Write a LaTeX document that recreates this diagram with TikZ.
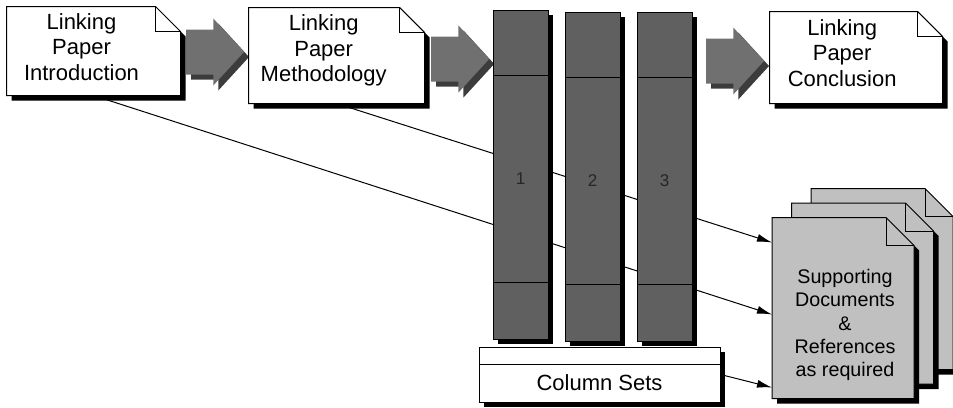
\documentclass[tikz,border=0pt]{standalone}
\usepackage{fontspec}
\setmainfont{Liberation Sans}
\usepackage{tikz}
\usetikzlibrary{calc}
\usetikzlibrary{positioning}
\usetikzlibrary{shapes.arrows}
\usetikzlibrary{shadows}
\usetikzlibrary{backgrounds}
\usetikzlibrary{arrows.meta}
\definecolor{barGray}{HTML}{606060}
\definecolor{blockGray}{HTML}{707070}
\definecolor{blockShade}{HTML}{3C3C3C}
\definecolor{paperGray}{HTML}{C0C0C0}
\tikzset{
    doctext/.style={font=\fontsize{22}{25.5}\selectfont},
    stacktext/.style={font=\fontsize{19.7}{23.3}\selectfont},
    blockarrow/.style={single arrow, fill=blockGray, inner xsep=0pt, inner ysep=22pt, single arrow head extend=11pt, single arrow tip angle=95, minimum height=58, drop shadow={fill=blockShade, opacity=1, shadow xshift=5pt, shadow yshift=-5pt}},
    bar/.style={rectangle, draw, fill=barGray, minimum width=\colWidth, minimum height=\colHeight, drop shadow={fill=black, opacity=1, shadow xshift=5pt, shadow yshift=-5pt}},
    barpart/.style={rectangle, draw, minimum width=\colWidth},
    barlabel/.style={font=\fontsize{17}{17}\selectfont, text=black!85},
    link/.style={draw, line width=1pt, -{Latex[length=15pt, width=8pt]}},
}
% name, text, text style, fill, width, height, text shift, placement
\newcommand{\docshape}[8]{
    \begin{scope}
        \node (#1) [rectangle, minimum width=#5, minimum height=#6, #8] {};
        \fill [black] ($(#1.north west)+(\shadowOff,\shadowOff)$) -- ($(#1.north east)+(\shadowOff-\foldSize,\shadowOff)$) -- ($(#1.north east)+(\shadowOff,\shadowOff+\foldSize)$) -- ($(#1.south east)+(\shadowOff,\shadowOff)$) -- ($(#1.south west)+(\shadowOff,\shadowOff)$) -- cycle;
        \draw [fill=#4] (#1.north west) -- ($(#1.north east)+(-\foldSize,0)$) -- ($(#1.north east)+(0,\foldSize)$) -- (#1.south east) -- (#1.south west) -- cycle;
        \draw ($(#1.north east)+(-\foldSize,0)$) -- ++(0,\foldSize) -- ++(\foldSize,0);
        \node (#1_text) [#3] at ($(#1.center)+(#7)$) {#2};
    \end{scope}
}
% name, label, placement
\newcommand{\barcol}[3]{
    \begin{scope}
        \node (#1) [bar, #3] {};
        \node (#1_upper) [barpart, minimum height=65, below=0pt of #1.north] {};
        \node (#1_lower) [barpart, minimum height=57, above=0pt of #1.south] {};
        \node (#1_label) [barlabel] at ($(#1_upper.south)!0.5!(#1_lower.north)$) {#2};
    \end{scope}
}
\begin{document}
\begin{tikzpicture}[x=1pt, y=-1pt, inner sep=0pt, align=center, line width=1pt]
    \pgfmathsetmacro{\shadowOff}{5}
    \pgfmathsetmacro{\foldSize}{25}
    \pgfmathsetmacro{\colWidth}{55}
    \pgfmathsetmacro{\colHeight}{329}

    \useasboundingbox (0,0) rectangle (953,407);

    \docshape{intro}{Linking\\Paper\\Introduction}{doctext}{white}{173}{88}{-12,-4}{at={(93.5,51)}}
    \node (arrow1) [blockarrow, right=5pt of intro, yshift=-1pt] {};
    \docshape{meth}{Linking\\Paper\\Methodology}{doctext}{white}{175}{95}{-13,-5}{right=4pt of arrow1, yshift=-3.5pt}
    \node (arrow2) [blockarrow, right=6pt of meth, yshift=-3.5pt] {};

    \barcol{col1}{1}{at={(520.5,174.5)}}
    \barcol{col2}{2}{right=16pt of col1, yshift=-2pt}
    \barcol{col3}{3}{right=16pt of col2}

    \node (arrow3) [blockarrow, anchor=west, xshift=13pt, yshift=-2pt] at (col3.east |- arrow2.east) {};
    \docshape{concl}{Linking\\Paper\\Conclusion}{doctext}{white}{172}{91}{-14,-4.5}{right=5pt of arrow3, yshift=3.5pt}

    % base under the columns
    \node (sets) [rectangle, draw, fill=white, minimum width=241, minimum height=55, drop shadow={fill=black, opacity=1, shadow xshift=5pt, shadow yshift=-5pt}, below=5pt of col2, xshift=7pt] {};
    \node (sets_lower) [rectangle, draw, doctext, minimum width=241, minimum height=38, above=0pt of sets.south] {Column Sets};

    % stack of supporting documents, back to front
    \pgfmathsetmacro{\foldSize}{28}
    \docshape{back_stack}{}{stacktext}{paperGray}{141}{180}{0,0}{at={(882,279)}}
    \docshape{mid_stack}{}{stacktext}{paperGray}{141}{180}{0,0}{below left=14.5pt and 19.5pt of back_stack.center, anchor=center}
    \docshape{front}{Supporting\\Documents\\\&\\References\\as required}{stacktext}{paperGray}{141}{180}{2,17}{below left=14.5pt and 19.5pt of mid_stack.center, anchor=center}

    \coordinate (front_in1) at ($(front.north west)+(0,25)$);
    \coordinate (front_in2) at ($(front.north west)+(0,97)$);
    \coordinate (front_in3) at ($(front.south west)+(0,-11)$);

    \begin{scope}[on background layer]
        \draw [link] (meth.south) -- (front_in1);
        \draw [link] (intro.south) -- (front_in2);
        \draw [link] (sets.east) -- (front_in3);
    \end{scope}
\end{tikzpicture}
\end{document}
